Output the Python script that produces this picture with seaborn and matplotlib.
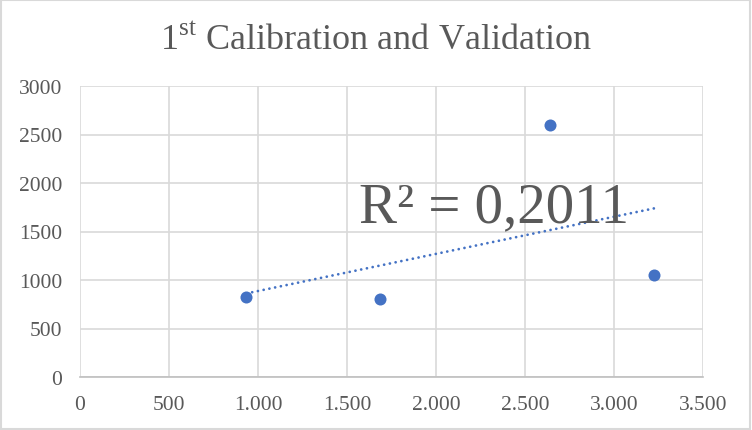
import numpy as np
import pandas as pd
import matplotlib
matplotlib.use("Agg")
import matplotlib.pyplot as plt
import seaborn as sns
from matplotlib.ticker import FuncFormatter

# Data
x_vals = [935, 1685, 2640, 3225]
y_vals = [820, 800, 2595, 1048]
r2_label = "R² = 0,2011"
title_text = "1$^{\\mathrm{st}}$ Calibration and Validation"
x_ticks = [0, 500, 1000, 1500, 2000, 2500, 3000, 3500]
y_ticks = [0, 500, 1000, 1500, 2000, 2500, 3000]

sns.set_style("white")
plt.rcParams['font.family'] = ['Liberation Serif', 'DejaVu Serif']
plt.rcParams['mathtext.fontset'] = 'custom'
plt.rcParams['mathtext.rm'] = 'Liberation Serif'

df = pd.DataFrame({"x": x_vals, "y": y_vals})

fig = plt.figure(figsize=(7.52, 4.31), dpi=100)
ax = fig.add_axes([80/752, 1-378/431, (703-80)/752, (378-87)/431])

blue = "#4472C4"
gray_text = "#595959"
grid_c = "#D9D9D9"

sns.scatterplot(data=df, x="x", y="y", ax=ax, color=blue, s=75,
                edgecolor=blue, linewidth=0, zorder=3)

# linear trendline
coef = np.polyfit(df["x"], df["y"], 1)
xs = np.array([df["x"].min(), df["x"].max()])
ax.plot(xs, np.polyval(coef, xs), linestyle=(0, (0.01, 2.1)), color=blue,
        linewidth=2.0, dash_capstyle='round', zorder=2)

ax.set_xlim(0, 3500)
ax.set_ylim(0, 3000)
ax.set_xticks(x_ticks)
ax.set_yticks(y_ticks)
ax.xaxis.set_major_formatter(FuncFormatter(lambda v, p: f"{int(v):,}".replace(",", ".")))
ax.grid(True, color=grid_c, linewidth=1.2)
ax.set_axisbelow(True)
for s in ["top", "right", "left"]:
    ax.spines[s].set_visible(False)
ax.spines["bottom"].set_color("#BFBFBF")
ax.spines["bottom"].set_linewidth(1.2)
ax.tick_params(axis='both', length=0, labelsize=15.5, labelcolor=gray_text)
ax.tick_params(axis='y', pad=13)
ax.tick_params(axis='x', pad=13)
ax.set_xlabel("")
ax.set_ylabel("")

fig.text(0.5, 1-42/431, title_text, ha='center', va='center', fontsize=26,
         color=gray_text)
ax.text(1565, 1745, r2_label, fontsize=41, color=gray_text, ha='left', va='center', zorder=4)

# outer border
fig.patches.append(plt.Rectangle((0.001, 0.002), 0.997, 0.995, transform=fig.transFigure,
                                 fill=False, edgecolor="#D9D9D9", linewidth=1.5))

fig.savefig("out.png", dpi=100)
